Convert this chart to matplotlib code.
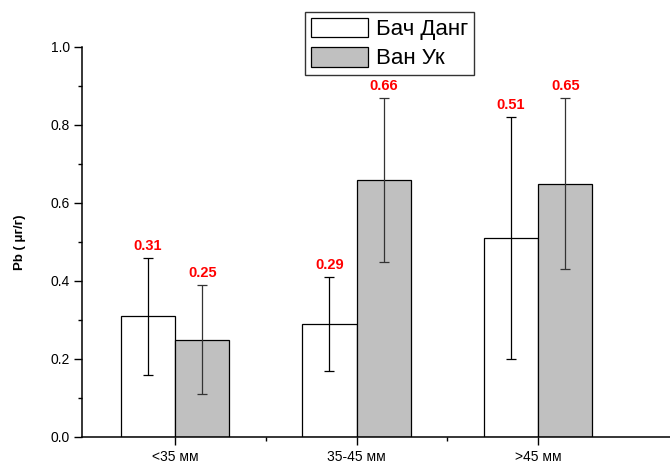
import matplotlib
matplotlib.use("Agg")
import matplotlib.pyplot as plt
import numpy as np
from matplotlib.ticker import MultipleLocator

plt.rcParams['font.family'] = ['Liberation Sans', 'DejaVu Sans']

categories = ["<35 мм", "35-45 мм", ">45 мм"]
series_names = ["Бач Данг", "Ван Ук"]
bach_dang = [0.31, 0.29, 0.51]
bach_dang_err = [0.15, 0.12, 0.31]
van_uk = [0.25, 0.66, 0.65]
van_uk_err = [0.14, 0.21, 0.22]

fig = plt.figure(figsize=(6.70, 4.63), dpi=100)
ax = fig.add_axes([82 / 670, 26 / 463, 588 / 670, 390 / 463])

x = np.arange(1, len(categories) + 1)
w = 0.3

ax.bar(x - w / 2, bach_dang, w, color="white", edgecolor="black", linewidth=0.9,
       label=series_names[0], zorder=2)
ax.bar(x + w / 2, van_uk, w, color="#c0c0c0", edgecolor="black", linewidth=0.9,
       label=series_names[1], zorder=2)

ax.errorbar(x - w / 2, bach_dang, yerr=bach_dang_err, fmt="none", ecolor="black",
            elinewidth=0.9, capsize=3.6, capthick=0.9, zorder=3)
ax.errorbar(x + w / 2, van_uk, yerr=van_uk_err, fmt="none", ecolor="#333333",
            elinewidth=0.9, capsize=3.6, capthick=0.9, zorder=3)

for xs, vals, errs in ((x - w / 2, bach_dang, bach_dang_err), (x + w / 2, van_uk, van_uk_err)):
    for xi, v, e in zip(xs, vals, errs):
        ax.annotate(f"{v:.2f}", (xi, v + e), xytext=(0, 3.5), textcoords="offset points",
                    ha="center", va="bottom", color="red", fontweight="bold", fontsize=10.5)

ax.set_ylim(0, 1.0)
ax.set_xlim(1 - 93 / 181.5, 3 + 132 / 181.5)
ax.yaxis.set_major_locator(MultipleLocator(0.2))
ax.yaxis.set_minor_locator(MultipleLocator(0.1))
ax.set_xticks(x)
ax.set_xticklabels(categories)
ax.set_xticks([1.5, 2.5], minor=True)
ax.tick_params(axis="both", which="major", direction="out", length=5.5, width=1,
               labelsize=10, pad=3)
ax.tick_params(axis="both", which="minor", direction="out", length=3.2, width=1)
ax.tick_params(axis="x", which="major", pad=4)
for s in ("top", "right"):
    ax.spines[s].set_visible(False)
for s in ("left", "bottom"):
    ax.spines[s].set_linewidth(1.1)

ax.set_ylabel("Pb ( μг/г)", fontweight="bold", fontsize=9.5, labelpad=18)

leg = ax.legend(loc="upper left", bbox_to_anchor=(305 / 670, 1 - 12 / 463),
                bbox_transform=fig.transFigure, fontsize=16, frameon=True,
                fancybox=False, edgecolor="black", handlelength=2.6, handleheight=1.0,
                borderpad=0.25, labelspacing=0.3, handletextpad=0.35, borderaxespad=0)
leg.get_frame().set_linewidth(1.0)

fig.savefig("out.png", dpi=100)
